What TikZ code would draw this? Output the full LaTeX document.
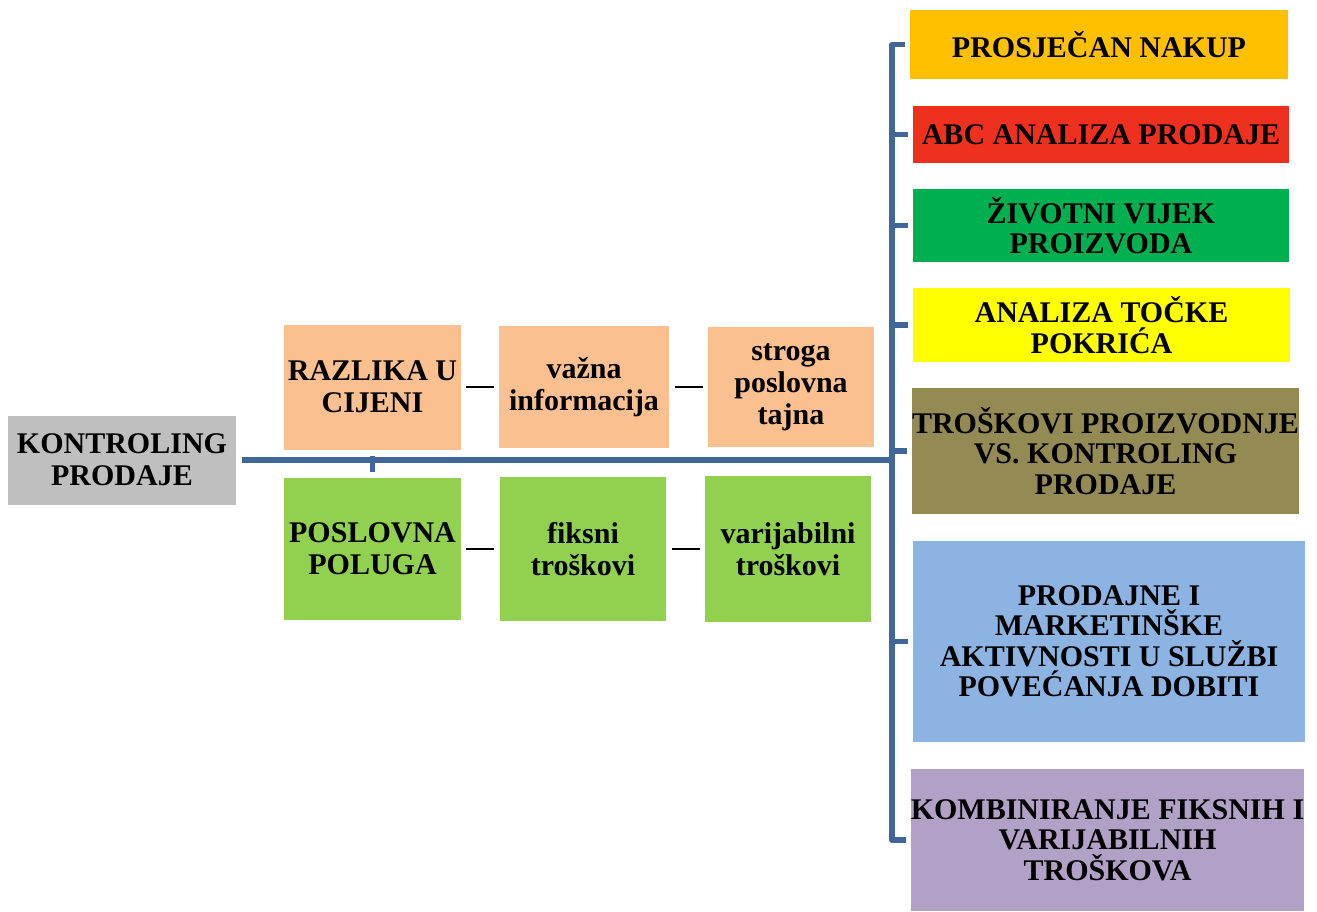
\documentclass[tikz,border=0pt]{standalone}
\usepackage{fontspec}
\setmainfont{Liberation Serif}
\definecolor{cgray}{HTML}{BFBFBF}
\definecolor{cpeach}{HTML}{FAC090}
\definecolor{clgreen}{HTML}{92D050}
\definecolor{corange}{HTML}{FFC000}
\definecolor{cred}{HTML}{F0301E}
\definecolor{cgreen}{HTML}{00B050}
\definecolor{cyellow}{HTML}{FFFF00}
\definecolor{colive}{HTML}{948A54}
\definecolor{cblue}{HTML}{8DB3E2}
\definecolor{cpurple}{HTML}{B2A1C7}
\definecolor{cline}{HTML}{41679A}
\tikzset{
  box/.style={inner sep=0pt, align=center, text=black,
    font=\bfseries\fontsize{30}{32}\selectfont},
  rbox/.style={box, font=\bfseries\fontsize{30}{30.5}\selectfont},
  conn/.style={draw=cline, line width=5.5pt, line join=round},
  dashline/.style={draw=black, line width=2.4pt},
}
\begin{document}
\begin{tikzpicture}[x=1pt,y=-1pt]
\useasboundingbox (0,0) rectangle (1317,912);
% left part
\node[box, fill=cgray, minimum width=228pt, minimum height=89pt] (root) at (122,460) {KONTROLING\\PRODAJE};
\node[box, fill=cpeach, minimum width=177pt, minimum height=125pt] (raz) at (372.5,387) {RAZLIKA U\\CIJENI};
\node[box, fill=cpeach, minimum width=170pt, minimum height=122pt] (vaz) at (584,387) {važna\\informacija};
\node[box, fill=cpeach, minimum width=166pt, minimum height=120pt] (str) at (791,387) {stroga\\poslovna\\tajna};
\node[box, fill=clgreen, minimum width=177pt, minimum height=142pt] (pos) at (372.5,549) {POSLOVNA\\POLUGA};
\node[box, fill=clgreen, minimum width=166pt, minimum height=144pt] (fik) at (583,549) {fiksni\\troškovi};
\node[box, fill=clgreen, minimum width=166pt, minimum height=146pt] (var) at (788,549) {varijabilni\\troškovi};
% right part
\node[rbox, fill=corange, minimum width=378pt, minimum height=69pt] (r1) at (1099,44.5) {PROSJEČAN NAKUP};
\node[rbox, fill=cred, minimum width=376pt, minimum height=57pt] (r2) at (1101,134.5) {ABC ANALIZA PRODAJE};
\node[rbox, fill=cgreen, minimum width=376pt, minimum height=73pt] (r3) at (1101,225.5) {ŽIVOTNI VIJEK\\PROIZVODA};
\node[rbox, fill=cyellow, minimum width=377pt, minimum height=74pt] (r4) at (1101.5,325) {ANALIZA TOČKE\\POKRIĆA};
\node[rbox, fill=colive, minimum width=385pt, minimum height=126pt] (r5) at (1105.5,451) {TROŠKOVI PROIZVODNJE\\VS. KONTROLING\\PRODAJE};
\node[rbox, fill=cblue, minimum width=392pt, minimum height=201pt] (r6) at (1109,641.5) {PRODAJNE I\\MARKETINŠKE\\AKTIVNOSTI U SLUŽBI\\POVEĆANJA DOBITI};
\node[rbox, fill=cpurple, minimum width=389pt, minimum height=142pt] (r7) at (1107.5,840) {KOMBINIRANJE FIKSNIH I\\VARIJABILNIH\\TROŠKOVA};
% connectors
\coordinate (bx) at (892,0);
\draw[conn] ([xshift=6pt]root.east) -- (root.east -| bx);
\draw[conn] ([yshift=-6pt]raz.south) -- ([yshift=6pt]pos.north);
\draw[conn] ([xshift=-5pt]r1.west) -- (r1.west -| bx) -- (r7.west -| bx) -- ([xshift=-5pt]r7.west);
\foreach \n in {r2,r3,r4,r5,r6}
  \draw[conn] (\n.west -| bx) -- ([xshift=-5pt]\n.west);
\draw[dashline] ([xshift=5pt]raz.east) -- ([xshift=-5pt]vaz.west);
\draw[dashline] ([xshift=6pt]vaz.east) -- ([xshift=-5pt]str.west);
\draw[dashline] ([xshift=5pt]pos.east) -- ([xshift=-6pt]fik.west);
\draw[dashline] ([xshift=6pt]fik.east) -- ([xshift=-5pt]var.west);
\end{tikzpicture}
\end{document}
